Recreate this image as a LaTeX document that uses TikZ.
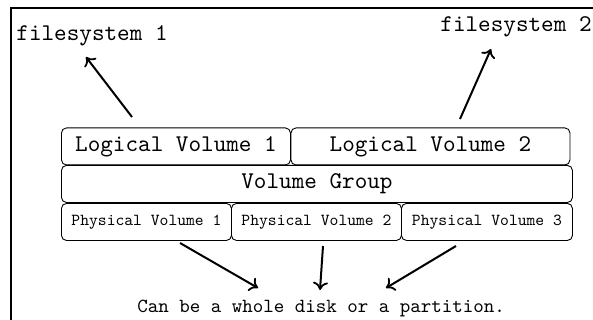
\documentclass[tikz,border=0pt]{standalone}
\usepackage{fontspec}
\newfontfamily\lmtten{lmmono10-regular}[Extension=.otf]
\usetikzlibrary{arrows.meta}
\begin{document}
\begin{tikzpicture}[x=1pt,y=-1pt,
  vbox/.style={draw,line width=0.9pt,rounded corners=5pt,inner sep=0pt,anchor=north west},
  big/.style={font=\lmtten\fontsize{24}{28}\selectfont},
  small/.style={font=\lmtten\fontsize{16.8}{20}\selectfont},
  note/.style={font=\lmtten\fontsize{20}{24}\selectfont},
  arr/.style={-{To[length=8pt,width=15pt,line width=1.8pt]},line width=2pt}]
\useasboundingbox (0,0) rectangle (593,320);
\clip (0,0) rectangle (593,320);
\draw[line width=2.2pt] (600,8.3) -- (11.2,8.3) -- (11.2,330);
% boxes
\node[vbox,big,minimum width=229pt,minimum height=37pt] (lv1) at (61,127.5) {Logical Volume 1};
\node[vbox,big,minimum width=279pt,minimum height=37pt] (lv2) at (290.5,127.5) {Logical Volume 2};
\node[vbox,big,minimum width=511pt,minimum height=37pt] (vg) at (61,165) {Volume Group};
\node[vbox,small,minimum width=170pt,minimum height=37pt] (pv1) at (61,203) {Physical Volume 1};
\node[vbox,small,minimum width=170pt,minimum height=37pt] (pv2) at (231,203) {Physical Volume 2};
\node[vbox,small,minimum width=171pt,minimum height=37pt] (pv3) at (401,203) {Physical Volume 3};
% labels
\node[big,anchor=base] (fs1) at (92,41) {filesystem 1};
\node[big,anchor=base] (fs2) at (516,32) {filesystem 2};
\node[note,anchor=base] (disk) at (321,312) {Can be a whole disk or a partition.};
% arrow endpoints
\coordinate (a1s) at (132,117);
\coordinate (a1e) at (86,57);
\coordinate (a2s) at (460,119);
\coordinate (a2e) at (491,49);
\coordinate (b1s) at (180,243);
\coordinate (b1e) at (258,288);
\coordinate (b2s) at (323,246);
\coordinate (b2e) at (320,290);
\coordinate (b3s) at (456,246);
\coordinate (b3e) at (386,288);
\draw[arr] (a1s) -- (a1e);
\draw[arr] (a2s) -- (a2e);
\draw[arr] (b1s) -- (b1e);
\draw[arr] (b2s) -- (b2e);
\draw[arr] (b3s) -- (b3e);
\end{tikzpicture}
\end{document}
